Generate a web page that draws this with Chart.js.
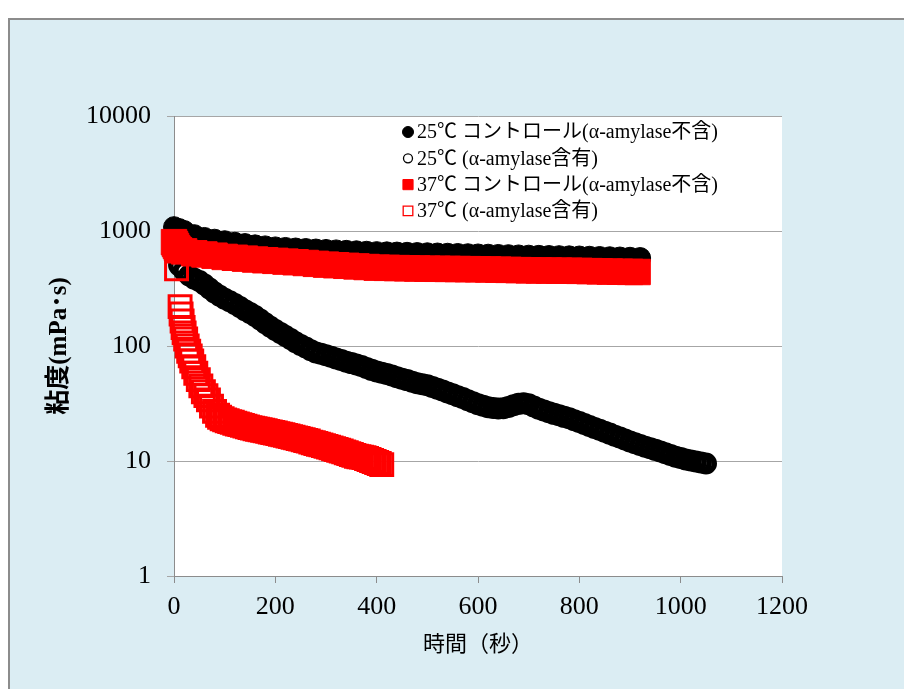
<!DOCTYPE html>
<html><head><meta charset="utf-8">
<script src="https://cdn.jsdelivr.net/npm/chart.js@4.4.0/dist/chart.umd.min.js"></script>
<style>html,body{margin:0;padding:0;background:#fff;}canvas{display:block;}</style>
</head><body>
<canvas id="c" width="904" height="689"></canvas>
<script>
// ---- data ----
const seriesLabels = [
  '25℃ コントロール(α-amylase不含)',
  '25℃ (α-amylase含有)',
  '37℃ コントロール(α-amylase不含)',
  '37℃ (α-amylase含有)'
];
const xTitle = '時間（秒）';
const yTitle = '粘度(mPa･s)';
const xTickValues = [0, 200, 400, 600, 800, 1000, 1200];
const yTickValues = [1, 10, 100, 1000, 10000];

// 25℃ control
const s1Time = [0,10,20,40,60,80,100,120,140,160,180,200,220,240,260,280,300,320,340,360,380,400,420,440,460,480,500,520,540,560,580,600,620,640,660,680,700,720,740,760,780,800,820,840,860,880,900,920];
const s1Visc = [1080,1040,1000,920,870,840,815,790,770,750,735,720,712,704,697,690,684,678,672,666,660,655,652,649,646,643,640,637,634,631,628,625,622,619,616,613,610,608,606,604,602,600,597,594,591,588,585,582];

// 25℃ with amylase
const s2Time = [10,20,30,40,50,60,70,80,90,100,110,120,130,140,150,160,170,180,190,200,210,220,230,240,250,260,270,280,290,300,310,320,330,340,350,360,370,380,390,400,410,420,430,440,450,460,470,480,490,500,510,520,530,540,550,560,570,580,590,600,610,620,630,640,650,660,670,680,690,700,710,720,730,740,750,760,770,780,790,800,810,820,830,840,850,860,870,880,890,900,910,920,930,940,950,960,970,980,990,1000,1010,1020,1030,1040,1050];
const s2Visc = [505,450,410,385,368,342,316,292,274,258,245,232,218,205,194,182,170,158,147,138,130,122,115,108,102,97,92,88,85.5,83,80.5,78,75.5,73,71,69,67,64.5,62,60,58.5,57,55.5,53.5,52,50.5,49,47.5,46.5,45.5,44,42.5,41,39.5,38,36.5,35.3,33.8,32.4,31.2,30.2,29.4,28.9,28.6,28.8,29.5,30.5,31.4,31.8,31.2,29.8,28.5,27.5,26.5,25.7,25,24.2,23.5,22.6,21.8,21,20.2,19.4,18.7,18,17.3,16.6,16,15.4,14.8,14.3,13.8,13.3,12.9,12.5,12.1,11.7,11.3,10.9,10.6,10.3,10.1,9.9,9.7,9.5];

// 37℃ control
const s3Time = [0,2,4,6,8,10,20,40,60,80,100,120,140,160,180,200,220,240,260,280,300,320,340,360,380,400,420,440,460,480,500,520,540,560,580,600,620,640,660,680,700,720,740,760,780,800,820,840,860,880,900,915];
const s3Visc = [800,770,740,710,690,680,665,640,625,610,595,585,575,565,557,550,542,535,527,518,510,504,498,492,486,480,478,476,474,472,470,469,468,467,466,465,463,461,459,457,455,454,453,452,451,450,448,446,444,442,441,440];

// 37℃ with amylase
const s4Time = [5,12,14,16,18,20,23,26,29,32,35,39,43,48,53,58,63,68,74,80,86,90,95,100,105,110,115,120,125,130,135,140,145,150,155,160,165,170,175,180,185,190,195,200,205,210,215,220,225,230,235,240,245,250,255,260,265,270,275,280,285,290,295,300,305,310,315,320,325,330,335,340,345,350,355,360,365,370,375,380,385,390,395,400,405,410];
const s4Visc = [470,220,190,165,145,130,115,100,90,82,74,66,58,51,45,40,37,34,30,27,25,24,23.3,22.8,22.4,22.0,21.7,21.3,21.0,20.7,20.4,20.1,19.8,19.5,19.3,19.1,18.9,18.7,18.5,18.3,18.1,17.9,17.7,17.5,17.3,17.1,16.9,16.7,16.5,16.3,16.1,15.9,15.7,15.5,15.3,15.1,14.9,14.6,14.4,14.2,14.0,13.8,13.6,13.4,13.2,13.0,12.8,12.6,12.4,12.2,12.0,11.8,11.6,11.4,11.2,11.0,10.9,10.8,10.7,10.5,10.3,10.1,9.9,9.7,9.5,9.3];

function pairs(t, v) {
  const n = Math.min(t.length, v.length);
  const out = [];
  for (let i = 0; i < n; i++) out.push({x: t[i], y: v[i]});
  return out;
}

const SERIF = '"Liberation Serif", "Noto Sans CJK JP", serif';

const bgPlugin = {
  id: 'bg',
  beforeDraw(chart) {
    const ctx = chart.ctx, W = chart.width, H = chart.height, a = chart.chartArea;
    ctx.save();
    ctx.fillStyle = '#ffffff';
    ctx.fillRect(0, 0, W, H);
    ctx.fillStyle = '#dbedf3';
    ctx.fillRect(9, 19, W - 9, H - 19);
    ctx.strokeStyle = '#8c8c8c';
    ctx.lineWidth = 2;
    ctx.beginPath();
    ctx.moveTo(9, H); ctx.lineTo(9, 19); ctx.lineTo(W, 19);
    ctx.stroke();
    ctx.fillStyle = '#ffffff';
    ctx.fillRect(a.left, a.top, a.right - a.left, a.bottom - a.top);
    ctx.restore();
  }
};

const legendMarks = [
  {style: 'circle', r: 5.5, fill: '#000', stroke: '#000', bw: 1},
  {style: 'circle', r: 4.5, fill: '#fff', stroke: '#000', bw: 1.3},
  {style: 'rect', r: 7.2, fill: '#ff0000', stroke: '#ff0000', bw: 1},
  {style: 'rect', r: 6.8, fill: '#fff', stroke: '#ff0000', bw: 1.3}
];

const legendPlugin = {
  id: 'customLegend',
  afterDraw(chart) {
    const ctx = chart.ctx;
    ctx.save();
    ctx.font = '20px ' + SERIF;
    ctx.textBaseline = 'middle';
    ctx.textAlign = 'left';
    chart.data.datasets.forEach((ds, i) => {
      const y = 132 + i * 26.3;
      const m = legendMarks[i];
      ctx.fillStyle = m.fill;
      ctx.strokeStyle = m.stroke;
      ctx.lineWidth = m.bw;
      Chart.helpers.drawPoint(ctx, {pointStyle: m.style, radius: m.r, rotation: 0, borderWidth: m.bw}, 408, y);
      ctx.fillStyle = '#000';
      ctx.fillText(ds.label, 417, y + 1);
    });
    ctx.restore();
  }
};

new Chart(document.getElementById('c'), {
  type: 'scatter',
  data: {
    datasets: [
      {label: seriesLabels[0], data: pairs(s1Time, s1Visc), order: 4, clip: false,
       pointStyle: 'circle', pointRadius: 10.5, backgroundColor: '#000', borderColor: '#000', borderWidth: 1},
      {label: seriesLabels[1], data: pairs(s2Time, s2Visc), order: 3, clip: false,
       pointStyle: 'circle', pointRadius: 8.3, backgroundColor: 'rgba(0,0,0,0)', borderColor: '#000', borderWidth: 5.4},
      {label: seriesLabels[2], data: pairs(s3Time, s3Visc), order: 2, clip: false,
       pointStyle: 'rect', pointRadius: 18, backgroundColor: '#ff0000', borderColor: '#ff0000', borderWidth: 1},
      {label: seriesLabels[3], data: pairs(s4Time, s4Visc), order: 1, clip: false,
       pointStyle: 'rect', pointRadius: 15.5, backgroundColor: 'rgba(0,0,0,0)', borderColor: '#ff0000', borderWidth: 3}
    ]
  },
  options: {
    responsive: false,
    animation: false,
    devicePixelRatio: 1,
    layout: {padding: {left: 0, right: 122, top: 116, bottom: 0}},
    plugins: {legend: {display: false}, tooltip: {enabled: false}},
    elements: {point: {hoverRadius: 0}},
    scales: {
      x: {
        type: 'linear', min: 0, max: 1200,
        afterBuildTicks: s => { s.ticks = xTickValues.map(v => ({value: v})); },
        afterFit: s => { s.height = 113; },
        ticks: {autoSkip: false, maxRotation: 0, color: '#000', padding: 9,
                font: {family: SERIF, size: 26}, callback: v => String(v)},
        grid: {drawOnChartArea: false, drawTicks: true, tickLength: 7, color: '#8c8c8c'},
        border: {display: true, color: '#8c8c8c', width: 1},
        title: {display: true, text: xTitle, color: '#000',
                font: {family: '"Noto Sans CJK JP", sans-serif', size: 22, weight: 'normal'},
                padding: {top: 0, bottom: 33}}
      },
      y: {
        type: 'logarithmic', min: 1, max: 10000,
        afterBuildTicks: s => { s.ticks = yTickValues.map(v => ({value: v})); },
        afterFit: s => { s.width = 174; },
        ticks: {autoSkip: false, color: '#000', padding: 16,
                font: {family: SERIF, size: 26}, callback: v => String(v)},
        grid: {drawOnChartArea: true, drawTicks: true, tickLength: 7, color: '#a6a6a6'},
        border: {display: true, color: '#8c8c8c', width: 1},
        title: {display: true, text: yTitle, color: '#000',
                font: {family: SERIF, size: 25, weight: 'bold'},
                padding: {top: 45, bottom: 0}}
      }
    }
  },
  plugins: [bgPlugin, legendPlugin]
});
</script>
</body></html>
